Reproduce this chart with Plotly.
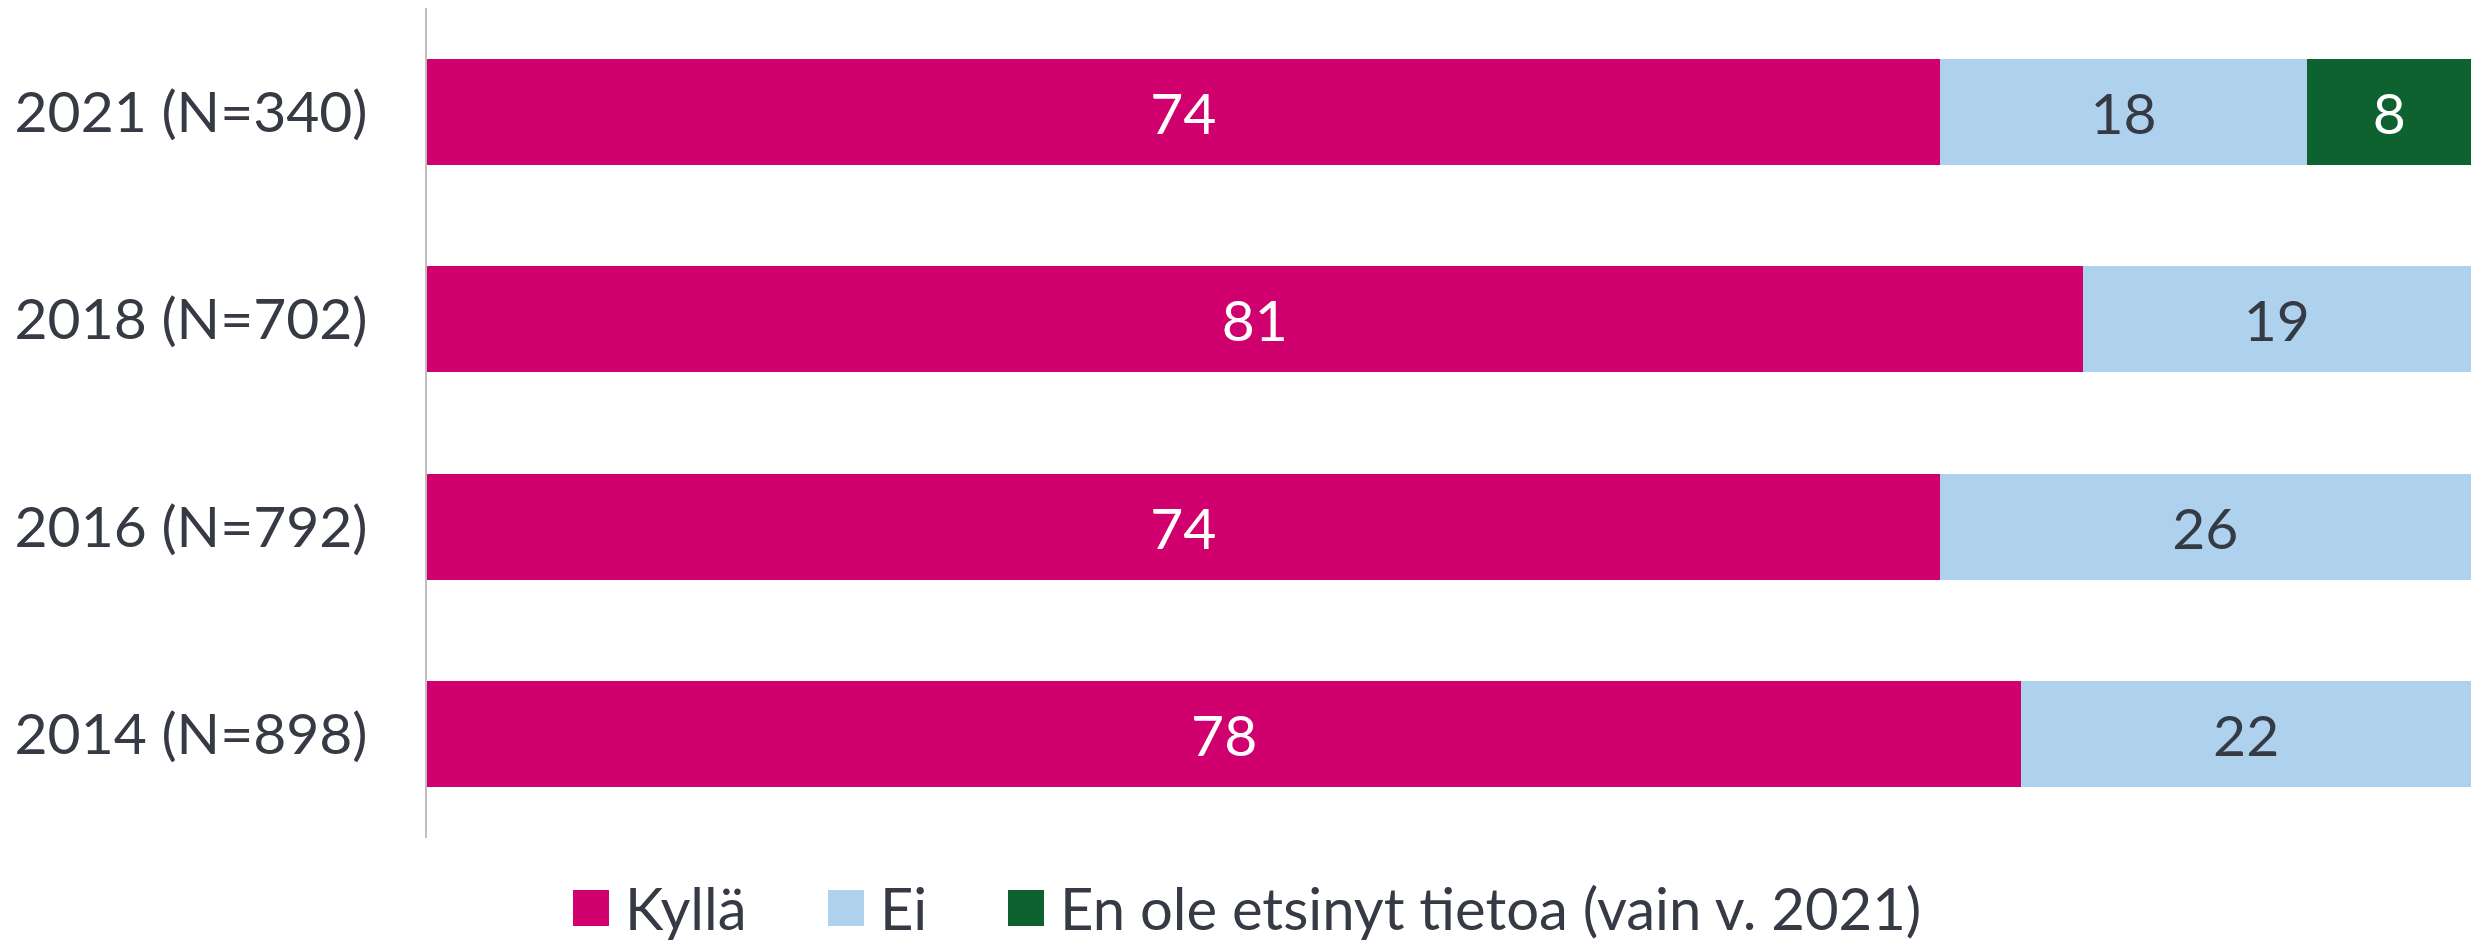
import plotly.graph_objects as go

categories = ["2021 (N=340)", "2018 (N=702)", "2016 (N=792)", "2014 (N=898)"]
kylla = [74, 81, 74, 78]
ei = [18, 19, 26, 22]
en_ole = [8, None, None, None]

series_names = ["Kyllä", "Ei", "En ole etsinyt tietoa (vain v. 2021)"]
colors = ["#D0006F", "#AED2EE", "#0E622F"]
text_colors = ["#FFFFFF", "#363A45", "#FFFFFF"]

W, H = 2481, 941
ML, MR, MT, MB = 427, 10, 8, 103
FONT = "Lato, Calibri, sans-serif"
TXT = "#363A45"

fig = go.Figure()
for name, vals, col, tcol in zip(series_names, [kylla, ei, en_ole], colors, text_colors):
    fig.add_trace(go.Bar(
        y=categories, x=vals, name=name, orientation="h",
        marker=dict(color=col, line=dict(width=0)),
        text=[("" if v is None else str(v)) for v in vals],
        textposition="inside", insidetextanchor="middle",
        textangle=0, constraintext="none",
        textfont=dict(color=tcol, size=57, family=FONT),
        showlegend=False,
    ))

# custom legend (large square swatches like the original)
pw, ph = W - ML - MR, H - MT - MB
def px_x(p):
    return (p - ML) / pw
def px_y(p):
    return (H - MB - p) / ph

legend_left = [573, 828, 1008]
sw = 36
cy = 908
shapes, annots = [], []
for name, col, left in zip(series_names, colors, legend_left):
    shapes.append(dict(type="rect", xref="paper", yref="paper",
                       x0=px_x(left), x1=px_x(left + sw),
                       y0=px_y(cy + sw / 2), y1=px_y(cy - sw / 2),
                       fillcolor=col, line=dict(width=0)))
    annots.append(dict(xref="paper", yref="paper", x=px_x(left + sw + 14), y=px_y(cy - 1),
                       xanchor="left", yanchor="middle", showarrow=False,
                       text=name, font=dict(size=58, color=TXT, family=FONT)))

fig.update_layout(
    width=W, height=H,
    barmode="stack", bargap=0.49,
    plot_bgcolor="white", paper_bgcolor="white",
    margin=dict(l=ML, r=MR, t=MT, b=MB, autoexpand=False),
    font=dict(family=FONT, size=57, color=TXT),
    uniformtext=dict(mode=False),
    xaxis=dict(range=[0, 100], visible=False, showgrid=False, zeroline=False),
    yaxis=dict(categoryorder="array", categoryarray=categories, autorange="reversed",
               showline=True, linecolor="#BFBFBF", linewidth=2, ticks="",
               automargin=False,
               ticklabelstandoff=46, tickfont=dict(size=57, color=TXT)),
    showlegend=False,
    shapes=shapes,
    annotations=annots,
)
fig.write_html("out.html", config={"displayModeBar": False},
               post_script="document.body.style.margin='0';document.body.style.overflow='hidden';")
